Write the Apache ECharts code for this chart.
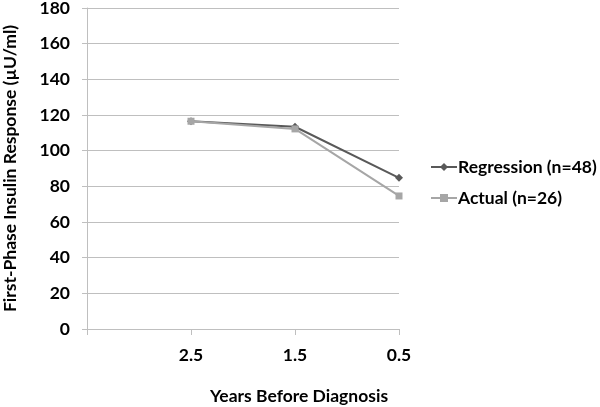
<!DOCTYPE html>
<html><head><meta charset="utf-8">
<script src="https://cdn.jsdelivr.net/npm/echarts@6/dist/echarts.min.js"></script>
<style>html,body{margin:0;padding:0;background:#fff}#c{width:600px;height:407px}</style>
</head><body><div id="c"></div>
<script>
const categories = ['', '2.5', '1.5', '0.5'];
const regression = ['-', 116.5, 113.4, 84.8];
const actual = ['-', 116.5, 112.2, 74.6];
const yTicks = {min: 0, max: 180, interval: 20};

const font = 'Lato, "Open Sans", sans-serif';
const fs = 17.5;
const chart = echarts.init(document.getElementById('c'));
chart.setOption({
  animation: false,
  backgroundColor: '#fff',
  grid: {left: 87, right: 201, top: 8, bottom: 78, containLabel: false, outerBoundsMode: 'none'},
  xAxis: {
    type: 'category', data: categories, boundaryGap: false,
    axisLine: {lineStyle: {color: '#bfbfbf'}},
    axisTick: {show: true, length: 6, lineStyle: {color: '#bfbfbf'}, alignWithLabel: true, interval: 0},
    axisLabel: {color: '#000', fontFamily: font, fontWeight: 'bold', fontSize: fs, margin: 17, interval: 0},
    splitLine: {show: false}
  },
  yAxis: {
    type: 'value', min: yTicks.min, max: yTicks.max, interval: yTicks.interval,
    axisLine: {show: true, lineStyle: {color: '#bfbfbf'}},
    axisTick: {show: true, length: 5, lineStyle: {color: '#bfbfbf'}},
    axisLabel: {color: '#000', fontFamily: font, fontWeight: 'bold', fontSize: fs, margin: 17},
    splitLine: {lineStyle: {color: '#bfbfbf'}},
    name: 'First-Phase Insulin Response (µU/ml)', nameLocation: 'middle', nameGap: 68,
    nameTextStyle: {color: '#000', fontFamily: font, fontWeight: 'bold', fontSize: fs}
  },
  legend: {
    orient: 'vertical', left: 430, top: 158, padding: 0, itemGap: 13, itemWidth: 26, itemHeight: 10,
    textStyle: {color: '#000', fontFamily: font, fontWeight: 'bold', fontSize: fs, padding: [0,0,0,-4]},
    data: ['Regression (n=48)', 'Actual (n=26)']
  },
  graphic: [{
    type: 'text', left: 210, top: 387,
    style: {text: 'Years Before Diagnosis', fill: '#000', font: 'bold ' + fs + 'px ' + font}
  }],
  series: [
    {name: 'Regression (n=48)', type: 'line', data: regression, symbol: 'diamond', symbolSize: 8,
     itemStyle: {color: '#595959'}, lineStyle: {color: '#595959', width: 2}, z: 2},
    {name: 'Actual (n=26)', type: 'line', data: actual, symbol: 'rect', symbolSize: 7,
     itemStyle: {color: '#a6a6a6'}, lineStyle: {color: '#a6a6a6', width: 2}, z: 3}
  ]
});
</script></body></html>
